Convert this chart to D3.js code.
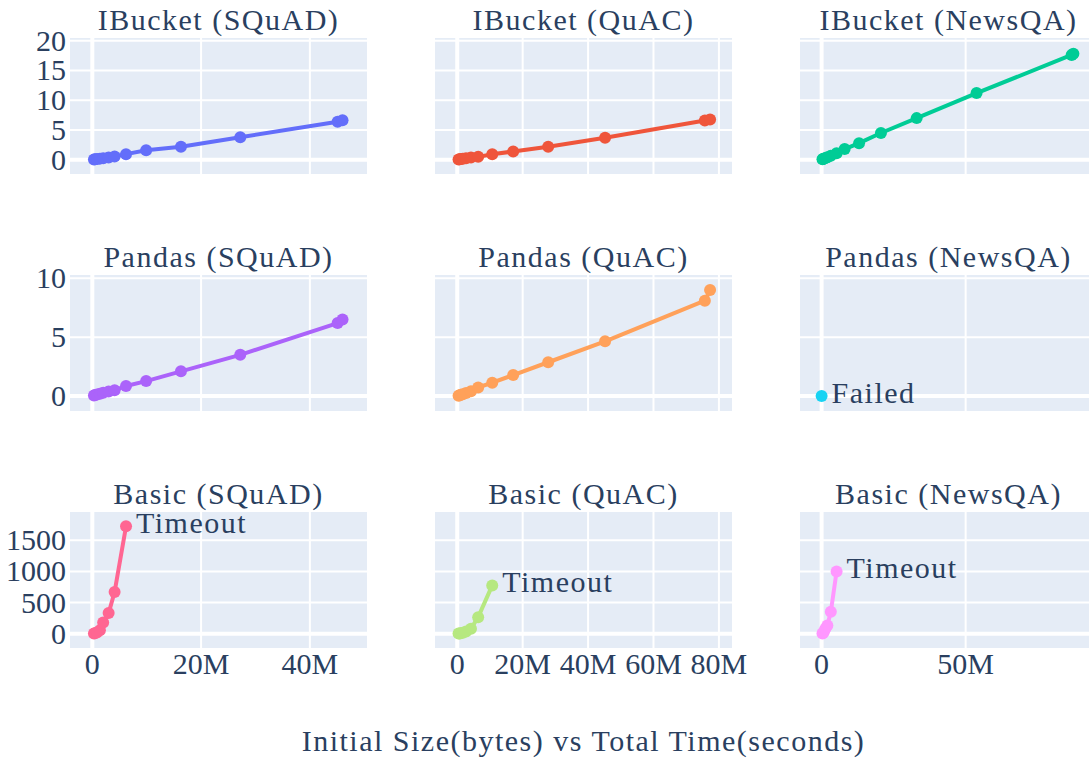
<!DOCTYPE html>
<html>
<head>
<meta charset="utf-8">
<script src="https://cdn.jsdelivr.net/npm/d3@7"></script>
<style>
  html, body { margin: 0; padding: 0; background: #fff; }
  svg { display: block; }
  svg text { font-family: "Liberation Serif", "DejaVu Serif", "Noto Serif", serif; }
</style>
</head>
<body>
<div id="chart"></div>
<script>
// ---- Data: initial size (bytes) vs total time (seconds) ----
const methods = ["IBucket", "Pandas", "Basic"];
const datasets = ["SQuAD", "QuAC", "NewsQA"];

const sizeSquad = [0.3e6, 0.5e6, 0.85e6, 1.4e6, 2.0e6, 3.0e6, 4.1e6, 6.2e6, 9.9e6, 16.3e6, 27.2e6, 45.1e6, 46.0e6];
const sizeQuac = [0.4e6, 0.7e6, 1.1e6, 1.7e6, 2.7e6, 4.2e6, 6.4e6, 10.7e6, 17.1e6, 27.8e6, 45.2e6, 75.7e6, 77.3e6];
const sizeNewsqa = [0.3e6, 0.5e6, 0.8e6, 1.3e6, 2.0e6, 3.2e6, 5.2e6, 8.0e6, 13.0e6, 20.6e6, 33.0e6, 53.8e6, 86.8e6, 87.4e6];

const timeIBucketSquad = [0.05, 0.08, 0.12, 0.2, 0.28, 0.4, 0.55, 0.95, 1.6, 2.2, 3.8, 6.4, 6.65];
const timeIBucketQuac = [0.05, 0.08, 0.12, 0.18, 0.27, 0.38, 0.5, 0.95, 1.4, 2.2, 3.7, 6.6, 6.75];
const timeIBucketNewsqa = [0.08, 0.13, 0.2, 0.3, 0.45, 0.7, 1.1, 1.8, 2.8, 4.5, 7.0, 11.2, 17.6, 17.8];

const timePandasSquad = [0.05, 0.08, 0.13, 0.2, 0.28, 0.38, 0.5, 0.85, 1.27, 2.1, 3.5, 6.2, 6.5];
const timePandasQuac = [0.03, 0.06, 0.1, 0.16, 0.25, 0.4, 0.73, 1.13, 1.78, 2.87, 4.65, 8.1, 9.0];
const sizePandasNewsqa = [0];
const timePandasNewsqa = [0];

const sizeBasicSquad = sizeSquad.slice(0, 8);
const timeBasicSquad = [3, 8, 20, 55, 180, 330, 670, 1725];
const sizeBasicQuac = sizeQuac.slice(0, 8);
const timeBasicQuac = [1, 3, 8, 15, 35, 80, 265, 775];
const sizeBasicNewsqa = sizeNewsqa.slice(0, 7);
const timeBasicNewsqa = [3, 10, 30, 80, 130, 350, 1000];

// tick values per shared axis
const xTicksByCol = [[0, 20e6, 40e6], [0, 20e6, 40e6, 60e6, 80e6], [0, 50e6]];
const yTicksByRow = [[0, 5, 10, 15, 20], [0, 5, 10], [0, 500, 1000, 1500]];

// axis ranges per shared axis
const xRangeByCol = [[-4.1e6, 50.5e6], [-6.8e6, 84.0e6], [-7.5e6, 95.6e6]];
const yRangeByRow = [[-2.38, 20.45], [-1.27, 10.28], [-231, 1955]];

// panel series, row-major
const panels = [
  { x: sizeSquad, y: timeIBucketSquad, color: "#636efa" },
  { x: sizeQuac, y: timeIBucketQuac, color: "#EF553B" },
  { x: sizeNewsqa, y: timeIBucketNewsqa, color: "#00cc96" },
  { x: sizeSquad, y: timePandasSquad, color: "#ab63fa" },
  { x: sizeQuac, y: timePandasQuac, color: "#FFA15A" },
  { x: sizePandasNewsqa, y: timePandasNewsqa, color: "#19d3f3", label: "Failed" },
  { x: sizeBasicSquad, y: timeBasicSquad, color: "#FF6692", label: "Timeout" },
  { x: sizeBasicQuac, y: timeBasicQuac, color: "#B6E880", label: "Timeout" },
  { x: sizeBasicNewsqa, y: timeBasicNewsqa, color: "#FF97FF", label: "Timeout" }
];

// ---- Layout ----
const W = 1089, H = 761;
const colLeft = [70, 435, 800];
const colWidth = 297;
const rowTop = [38, 275, 512];
const rowHeight = 136;
const TEXT = "#2a3f5f";
const BG = "#E5ECF6";

const svg = d3.select("#chart").append("svg")
  .attr("width", W).attr("height", H)
  .style("background", "#fff");

// tick text: millions as "20M", everything else as a plain number
const fmt = v => (Math.abs(v) >= 1e6 ? d3.format("~")(v / 1e6) + "M" : d3.format("~")(v));

const xScales = xRangeByCol.map((r, c) =>
  d3.scaleLinear().domain(r).range([colLeft[c], colLeft[c] + colWidth]));
const yScales = yRangeByRow.map((r, i) =>
  d3.scaleLinear().domain(r).range([rowTop[i] + rowHeight, rowTop[i]]));

panels.forEach((p, idx) => {
  const row = Math.floor(idx / 3), col = idx % 3;
  const x = xScales[col], y = yScales[row];
  const g = svg.append("g");

  // background
  g.append("rect")
    .attr("x", colLeft[col]).attr("y", rowTop[row])
    .attr("width", colWidth).attr("height", rowHeight)
    .attr("fill", BG);

  // gridlines (zero lines drawn wider)
  xTicksByCol[col].forEach(t => {
    g.append("line")
      .attr("x1", x(t)).attr("x2", x(t))
      .attr("y1", rowTop[row]).attr("y2", rowTop[row] + rowHeight)
      .attr("stroke", "#fff").attr("stroke-width", t === 0 ? 4 : 2);
  });
  yTicksByRow[row].forEach(t => {
    g.append("line")
      .attr("x1", colLeft[col]).attr("x2", colLeft[col] + colWidth)
      .attr("y1", y(t)).attr("y2", y(t))
      .attr("stroke", "#fff").attr("stroke-width", t === 0 ? 4 : 2);
  });

  // y tick labels on the first column only
  if (col === 0) {
    yTicksByRow[row].forEach(t => {
      svg.append("text")
        .attr("x", colLeft[0] - 4).attr("y", y(t) + 10)
        .attr("text-anchor", "end")
        .attr("font-size", 30)
        .attr("fill", TEXT)
        .text(fmt(t));
    });
  }
  // x tick labels on the bottom row only
  if (row === 2) {
    xTicksByCol[col].forEach(t => {
      svg.append("text")
        .attr("x", x(t)).attr("y", rowTop[2] + rowHeight + 26)
        .attr("text-anchor", "middle")
        .attr("font-size", 30)
        .attr("fill", TEXT)
        .text(fmt(t));
    });
  }

  // subplot title
  svg.append("text")
    .attr("x", colLeft[col] + colWidth / 2)
    .attr("y", rowTop[row] - 8)
    .attr("text-anchor", "middle")
    .attr("font-size", 30)
    .attr("letter-spacing", 1.5)
    .attr("fill", TEXT)
    .text(`${methods[row]} (${datasets[col]})`);

  // series
  const pts = p.x.map((v, i) => [v, p.y[i]]);
  g.append("path")
    .datum(pts)
    .attr("d", d3.line().x(d => x(d[0])).y(d => y(d[1])))
    .attr("fill", "none")
    .attr("stroke", p.color)
    .attr("stroke-width", 4)
    .attr("stroke-linejoin", "round");
  g.selectAll("circle").data(pts).join("circle")
    .attr("cx", d => x(d[0])).attr("cy", d => y(d[1]))
    .attr("r", 6)
    .attr("fill", p.color);

  // label on the final point
  if (p.label) {
    const last = pts[pts.length - 1];
    g.append("text")
      .attr("x", x(last[0]) + 10)
      .attr("y", y(last[1]) + 6.5)
      .attr("font-size", 30)
      .attr("letter-spacing", 1.5)
      .attr("fill", TEXT)
      .text(p.label);
  }
});

// shared axis title
svg.append("text")
  .attr("x", (colLeft[0] + colLeft[2] + colWidth) / 2)
  .attr("y", 751)
  .attr("text-anchor", "middle")
  .attr("font-size", 30)
  .attr("letter-spacing", 1.5)
  .attr("fill", TEXT)
  .text("Initial Size(bytes) vs Total Time(seconds)");
</script>
</body>
</html>
